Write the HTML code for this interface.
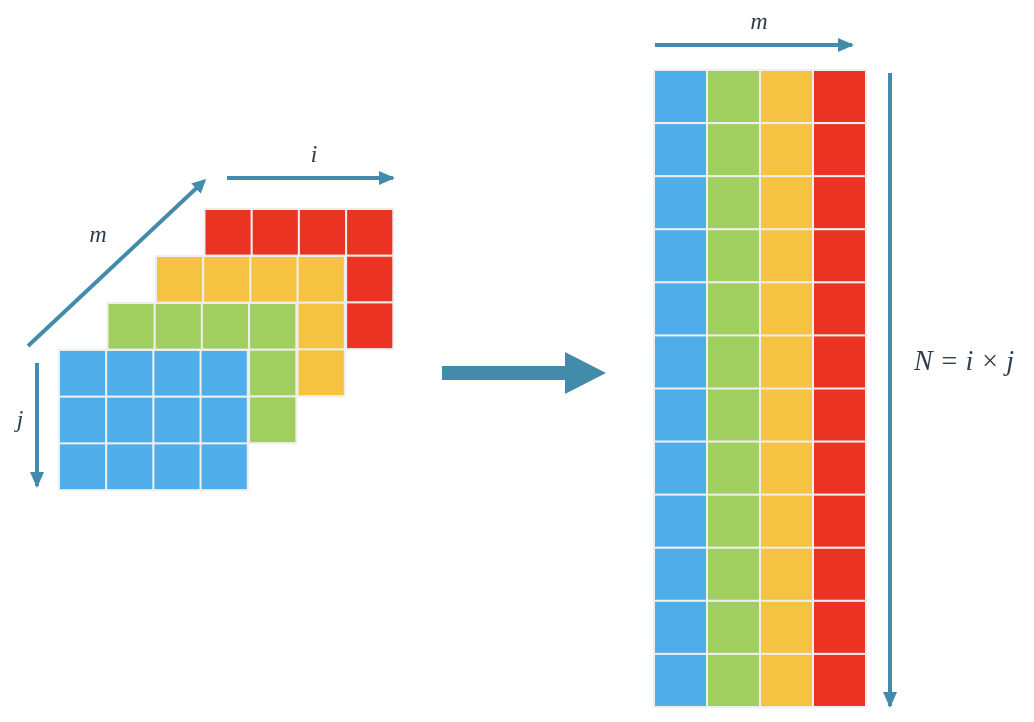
<!DOCTYPE html>
<html><head><meta charset="utf-8"><style>
html,body{margin:0;padding:0;background:#fff;}
svg{display:block;}
text{font-family:"Liberation Serif",serif;font-style:italic;fill:#2f3e4e;}
</style></head><body>
<svg id="s" width="1034" height="722" viewBox="0 0 1034 722">
<defs>
<marker id="ah" markerWidth="14" markerHeight="14" refX="11" refY="7" orient="auto" markerUnits="userSpaceOnUse">
<path d="M0,0 L14,7 L0,14 z" fill="#438bab"/></marker>
<marker id="ah2" markerWidth="16" markerHeight="16" refX="14" refY="8" orient="auto" markerUnits="userSpaceOnUse">
<path d="M0,1 L16,8 L0,15 z" fill="#438bab"/></marker>
</defs>
<g id="left"></g>
<g id="right"></g>
<line x1="28" y1="346" x2="204" y2="181" stroke="#438bab" stroke-width="4" marker-end="url(#ah)"/>
<line x1="227" y1="178" x2="393" y2="178" stroke="#438bab" stroke-width="4" marker-end="url(#ah2)"/>
<line x1="37" y1="363" x2="37" y2="486" stroke="#438bab" stroke-width="4" marker-end="url(#ah2)"/>
<line x1="655" y1="45" x2="852" y2="45" stroke="#438bab" stroke-width="4" marker-end="url(#ah2)"/>
<line x1="890" y1="73" x2="890" y2="706" stroke="#438bab" stroke-width="4" marker-end="url(#ah2)"/>
<path d="M442,366 L565,366 L565,352 L606,373 L565,394 L565,380 L442,380 z" fill="#438bab"/>
<text x="98" y="242" font-size="24" text-anchor="middle">m</text>
<text x="314" y="162" font-size="24" text-anchor="middle">i</text>
<text x="20" y="427" font-size="24" text-anchor="middle">j</text>
<text x="759" y="29" font-size="24" text-anchor="middle">m</text>
<text x="964" y="370" font-size="28" text-anchor="middle">N = i × j</text>
</svg>
<script>
const colors = ["#4fadea","#a0cf5f","#f5c242","#eb3323"];
const layerNames = ["blue","green","yellow","red"];
const gridCols = 4, gridRows = 3, flatRows = 12;
const NS="http://www.w3.org/2000/svg";
const left=document.getElementById('left'), right=document.getElementById('right');
function cell(g,x,y,w,h,c){
  const r=document.createElementNS(NS,'rect');
  r.setAttribute('x',x);r.setAttribute('y',y);r.setAttribute('width',w);r.setAttribute('height',h);
  r.setAttribute('fill',c);r.setAttribute('stroke','#eeeeee');r.setAttribute('stroke-width','2');
  
  
  g.appendChild(r);
}
const cw=47.2, ch=46.7;
for(let l=layerNames.length-1;l>=0;l--){
  const ox=59+l*48.5, oy=350-l*47;
  for(let r=0;r<gridRows;r++)for(let c=0;c<gridCols;c++)cell(left,ox+c*cw,oy+r*ch,cw,ch,colors[l]);
}
const fw=53, fh=(707-70)/flatRows;
for(let r=0;r<flatRows;r++)for(let c=0;c<colors.length;c++)cell(right,654+c*fw,70+r*fh,fw,fh,colors[c]);
</script>
</body></html>
